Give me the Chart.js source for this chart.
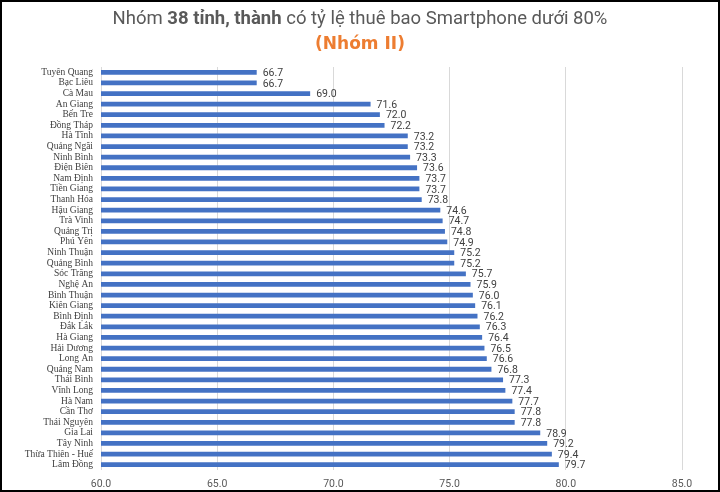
<!DOCTYPE html>
<html>
<head>
<meta charset="utf-8">
<script src="https://cdn.jsdelivr.net/npm/chart.js@4"></script>
<style>
  html, body { margin: 0; padding: 0; background: #fff; }
  #page { position: relative; width: 720px; height: 492px; overflow: hidden; }
  #wrap { position: absolute; left: 0; top: 0; width: 720px; height: 492px; }
  #frame { position: absolute; left: 0; top: 0; width: 720px; height: 492px;
           box-sizing: border-box; border: 2px solid #000; pointer-events: none; }
  .t1 { position: absolute; left: 0; width: 720px; top: 7px; text-align: center;
        font-family: Roboto, "Noto Sans", sans-serif; font-size: 18.5px; color: #595959; }
  .t2 { position: absolute; left: 0; width: 720px; top: 33px; text-align: center;
        font-family: "DejaVu Sans", sans-serif; font-size: 17px; font-weight: bold; color: #ED7D31; }
</style>
</head>
<body>
<div id="page">
  <div id="wrap"><canvas id="barChart"></canvas></div>
  <div class="t1">Nhóm <b>38 tỉnh, thành</b> có tỷ lệ thuê bao Smartphone dưới 80%</div>
  <div class="t2">(Nhóm II)</div>
  <div id="frame"></div>
</div>
<script>
// du lieu
const tinh = ['Tuyên Quang', 'Bạc Liêu', 'Cà Mau', 'An Giang', 'Bến Tre', 'Đồng Tháp',
  'Hà Tĩnh', 'Quảng Ngãi', 'Ninh Bình', 'Điện Biên', 'Nam Định', 'Tiền Giang',
  'Thanh Hóa', 'Hậu Giang', 'Trà Vinh', 'Quảng Trị', 'Phú Yên', 'Ninh Thuận',
  'Quảng Bình', 'Sóc Trăng', 'Nghệ An', 'Bình Thuận', 'Kiên Giang', 'Bình Định',
  'Đắk Lắk', 'Hà Giang', 'Hải Dương', 'Long An', 'Quảng Nam', 'Thái Bình',
  'Vĩnh Long', 'Hà Nam', 'Cần Thơ', 'Thái Nguyên', 'Gia Lai', 'Tây Ninh',
  'Thừa Thiên - Huế', 'Lâm Đồng'];
const tyLe = [66.7, 66.7, 69.0, 71.6, 72.0, 72.2,
  73.2, 73.2, 73.3, 73.6, 73.7, 73.7,
  73.8, 74.6, 74.7, 74.8, 74.9, 75.2,
  75.2, 75.7, 75.9, 76.0, 76.1, 76.2,
  76.3, 76.4, 76.5, 76.6, 76.8, 77.3,
  77.4, 77.7, 77.8, 77.8, 78.9, 79.2,
  79.4, 79.7];
const xMin = 60;
const xMax = 85;
const xStep = 5;

// nhan gia tri cuoi moi thanh
const ValuePlugin = {
  id: 'valueLabels',
  afterDatasetsDraw: (chart) => {
    const { ctx } = chart;
    const meta = chart.getDatasetMeta(0);
    ctx.save();
    ctx.font = '10.5px Roboto, "Noto Sans", sans-serif';
    ctx.fillStyle = '#404040';
    ctx.textAlign = 'left';
    ctx.textBaseline = 'middle';
    meta.data.forEach((bar, i) => {
      ctx.fillText(tyLe[i].toFixed(1), bar.x + 6, bar.y + 1);
    });
    ctx.restore();
  }
};

let ctx = document.getElementById('barChart').getContext('2d');
let myChart = new Chart(ctx, {
  type: 'bar',
  data: {
    labels: tinh,
    datasets: [{
      data: tyLe,
      backgroundColor: '#4472C4',
      borderWidth: 0,
      barPercentage: 0.45,
      categoryPercentage: 1.0
    }]
  },
  options: {
    indexAxis: 'y',
    responsive: true,
    maintainAspectRatio: false,
    animation: false,
    layout: { padding: { top: 67, right: 38, bottom: 0, left: 0 } },
    plugins: {
      legend: { display: false },
      title: { display: false },
      tooltip: { enabled: false }
    },
    scales: {
      x: {
        min: xMin,
        max: xMax,
        grid: { color: '#D9D9D9', drawTicks: false },
        border: { display: false },
        ticks: {
          stepSize: xStep,
          padding: 8,
          color: '#595959',
          font: { family: 'Roboto, "Noto Sans", sans-serif', size: 10.5 },
          callback: (v) => Number(v).toFixed(1)
        },
        afterFit: (scale) => { scale.height = 22; }
      },
      y: {
        grid: { display: false, drawTicks: false },
        border: { display: false },
        ticks: {
          autoSkip: false,
          padding: 8,
          color: '#404040',
          font: { family: '"Liberation Serif", "DejaVu Serif", serif', size: 9.5 }
        },
        afterFit: (scale) => { scale.width = 101; }
      }
    }
  },
  plugins: [ValuePlugin]
});
</script>
</body>
</html>
